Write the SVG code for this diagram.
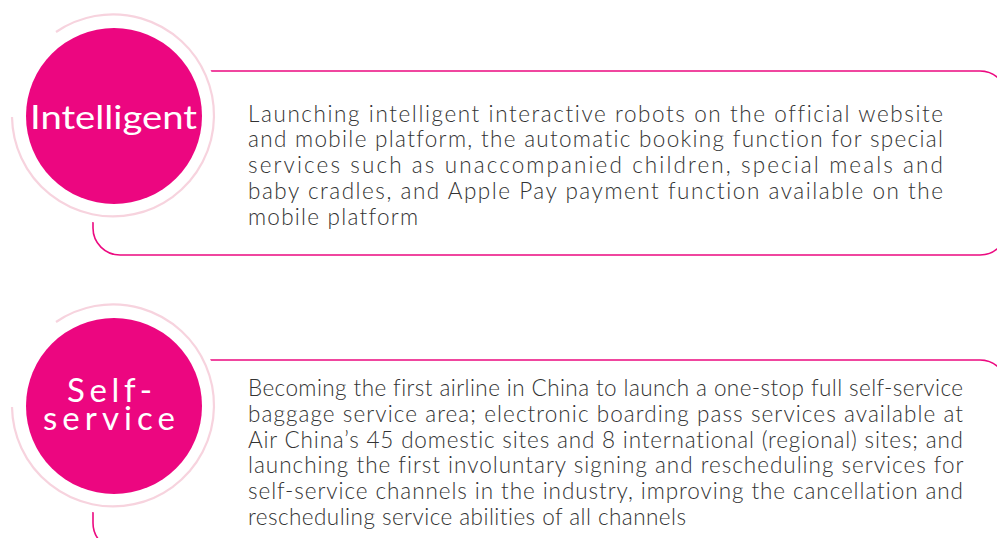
<svg xmlns="http://www.w3.org/2000/svg" width="997" height="538" viewBox="0 0 997 538">
<style>
.frame{fill:none;stroke:#EC0A80;stroke-width:1.6}
.mask{fill:#fff}
.ring{fill:none;stroke:#F7D3DE;stroke-width:2.2}
.disc{fill:#EC0680}
.label{font-family:Lato,"Open Sans","Liberation Sans",sans-serif;font-size:33px;fill:#fff;font-variant-ligatures:none}
.body{font-family:Lato,"Open Sans","Liberation Sans",sans-serif;font-size:22.5px;font-weight:300;fill:#333;font-variant-ligatures:none}
</style>
<rect width="997" height="538" fill="#fff"/>
<g id="node-intelligent">
<rect class="frame" x="93" y="71" width="914" height="184" rx="27"/>
<circle class="mask" cx="113" cy="116" r="108"/>
<path class="ring" d="M12 117 A101 101 0 1 0 56 32"/>
<circle class="disc" cx="114" cy="116" r="88"/>
<text class="label" x="30" y="129" textLength="167" lengthAdjust="spacingAndGlyphs">Intelligent</text>
<text class="body">
<tspan x="248" y="121.5" textLength="695" lengthAdjust="spacing">Launching intelligent interactive robots on the official website</tspan>
<tspan x="248" y="147.3" textLength="695" lengthAdjust="spacing">and mobile platform, the automatic booking function for special</tspan>
<tspan x="248" y="173" textLength="695" lengthAdjust="spacing">services such as unaccompanied children, special meals and</tspan>
<tspan x="248" y="198.8" textLength="695" lengthAdjust="spacing">baby cradles, and Apple Pay payment function available on the</tspan>
<tspan x="248" y="224.6" textLength="170" lengthAdjust="spacing">mobile platform</tspan>
</text>
</g>
<g id="node-self-service">
<rect class="frame" x="93" y="360" width="914" height="190" rx="27"/>
<circle class="mask" cx="113" cy="406" r="108"/>
<path class="ring" d="M12 407 A101 101 0 1 0 56 322"/>
<circle class="disc" cx="114" cy="406" r="88"/>
<text class="label">
<tspan x="67" y="402" textLength="85" lengthAdjust="spacing">Self-</tspan>
<tspan x="43" y="430" textLength="132" lengthAdjust="spacing">service</tspan>
</text>
<text class="body">
<tspan x="248" y="396" textLength="715" lengthAdjust="spacing">Becoming the first airline in China to launch a one-stop full self-service</tspan>
<tspan x="248" y="421.7" textLength="715" lengthAdjust="spacing">baggage service area; electronic boarding pass services available at</tspan>
<tspan x="248" y="447.6" textLength="715" lengthAdjust="spacing">Air China’s 45 domestic sites and 8 international (regional) sites; and</tspan>
<tspan x="248" y="473.3" textLength="715" lengthAdjust="spacing">launching the first involuntary signing and rescheduling services for</tspan>
<tspan x="248" y="499" textLength="715" lengthAdjust="spacing">self-service channels in the industry, improving the cancellation and</tspan>
<tspan x="248" y="525" textLength="438" lengthAdjust="spacing">rescheduling service abilities of all channels</tspan>
</text>
</g>
<g id="connectors"></g>
</svg>
